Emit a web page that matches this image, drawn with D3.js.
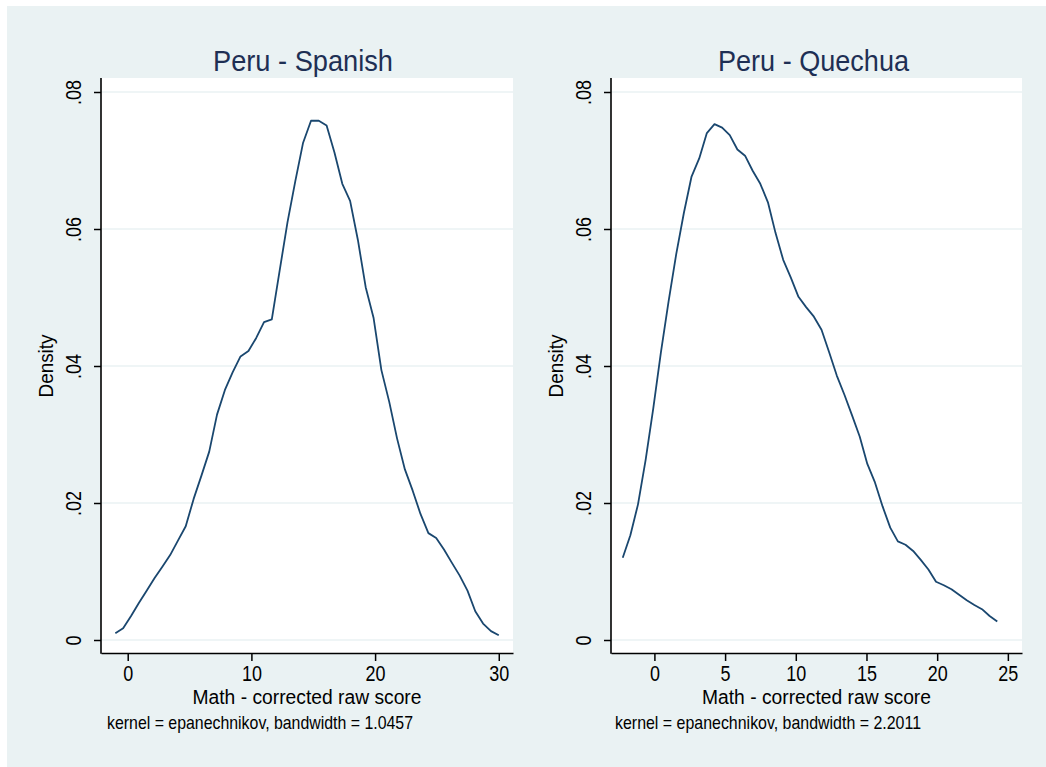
<!DOCTYPE html>
<html>
<head>
<meta charset="utf-8">
<script src="https://cdn.jsdelivr.net/npm/d3@7"></script>
<style>
html,body{margin:0;padding:0;background:#fff;}
svg{display:block;}
text{font-family:"Liberation Sans Narrow","Arial Narrow","Liberation Sans",Arial,sans-serif;}
</style>
</head>
<body>
<svg id="chart" width="1046" height="767"></svg>
<script>
// kernel density estimates (50 points each)
const spanishX = [-1.00,-0.37,0.27,0.90,1.53,2.16,2.80,3.43,4.06,4.69,5.33,5.96,6.59,7.22,7.86,8.49,9.12,9.76,10.39,11.02,
  11.65,12.29,12.92,13.55,14.18,14.82,15.45,16.08,16.71,17.35,17.98,18.61,19.24,19.88,20.51,21.14,21.78,22.41,23.04,23.67,
  24.31,24.94,25.57,26.20,26.84,27.47,28.10,28.73,29.37,30.00];
const spanishY = [0.0010,0.0017,0.0035,0.0054,0.0072,0.0090,0.0107,0.0124,0.0145,0.0166,0.0206,0.0240,0.0275,0.0329,0.0365,0.0391,0.0414,0.0422,0.0441,0.0464,
  0.0468,0.0540,0.0610,0.0670,0.0726,0.0758,0.0758,0.0751,0.0712,0.0666,0.0641,0.0584,0.0515,0.0470,0.0394,0.0348,0.0294,0.0249,0.0218,0.0184,
  0.0156,0.0149,0.0132,0.0113,0.0094,0.0072,0.0042,0.0024,0.0013,0.0007];
const quechuaX = [-2.24,-1.70,-1.16,-0.62,-0.08,0.46,1.00,1.54,2.08,2.62,3.17,3.71,4.25,4.79,5.33,5.87,6.41,6.95,7.49,8.03,
  8.57,9.11,9.65,10.19,10.73,11.28,11.82,12.36,12.90,13.44,13.98,14.52,15.06,15.60,16.14,16.68,17.22,17.76,18.30,18.84,
  19.38,19.92,20.47,21.01,21.55,22.09,22.63,23.17,23.71,24.25];
const quechuaY = [0.0120,0.0153,0.0198,0.0263,0.0338,0.0420,0.0494,0.0563,0.0623,0.0676,0.0703,0.0740,0.0753,0.0748,0.0737,0.0716,0.0707,0.0685,0.0666,0.0639,
  0.0594,0.0555,0.0529,0.0501,0.0486,0.0472,0.0453,0.0420,0.0386,0.0358,0.0328,0.0297,0.0257,0.0230,0.0195,0.0164,0.0144,0.0139,0.0130,0.0117,
  0.0103,0.0085,0.0080,0.0074,0.0066,0.0058,0.0051,0.0045,0.0035,0.0027];

const yTicks = [0, 0.02, 0.04, 0.06, 0.08];
const spanishTicks = [0, 10, 20, 30];
const quechuaTicks = [0, 5, 10, 15, 20, 25];
const titles = ["Peru - Spanish", "Peru - Quechua"];
const xTitle = "Math - corrected raw score";
const notes = ["kernel = epanechnikov, bandwidth = 1.0457", "kernel = epanechnikov, bandwidth = 2.2011"];

const panels = [
  { xs: spanishX, ys: spanishY, ticks: spanishTicks, dom: [-2.16, 31.15], left: 101, right: 513, title: titles[0], note: notes[0], tW: 180, tDx: -4, nDx: 6 },
  { xs: quechuaX, ys: quechuaY, ticks: quechuaTicks, dom: [-3.07, 26.0], left: 611, right: 1022, title: titles[1], note: notes[1], tW: 191, tDx: -3, nDx: 4 }
];

const bg = "#eaf2f3", navy = "#1a476f";
const plotTop = 78, plotBottom = 653;
const font = '"Liberation Sans Narrow","Arial Narrow","Liberation Sans",Arial,sans-serif';
const svg = d3.select("#chart");
svg.append("rect").attr("x",7).attr("y",6).attr("width",1039).attr("height",761).attr("fill",bg);

const fmtY = d => d === 0 ? "0" : d3.format(".2f")(d).replace(/^0/, "");
// narrow look: squeeze labels to roughly the reference widths
const labelLen = s => s.replace(/\./g, "").length * 10 + (s.includes(".") ? 5 : 0);

panels.forEach(p => {
  const x = d3.scaleLinear().domain(p.dom).range([p.left, p.right]);
  const y = d3.scaleLinear().domain([0, 0.08]).range([640, 92]);
  const g = svg.append("g");
  const mid = (p.left + p.right) / 2;

  g.append("rect").attr("x",p.left).attr("y",plotTop).attr("width",p.right-p.left).attr("height",plotBottom-plotTop).attr("fill","#fff");

  // grid
  g.selectAll("line.grid").data(yTicks).join("line").attr("class","grid")
    .attr("x1",p.left).attr("x2",p.right).attr("y1",d=>y(d)).attr("y2",d=>y(d))
    .attr("stroke",bg).attr("stroke-width",1.5);

  // density curve
  g.append("path").datum(d3.zip(p.xs, p.ys))
    .attr("d", d3.line().x(d=>x(d[0])).y(d=>y(d[1])))
    .attr("fill","none").attr("stroke",navy).attr("stroke-width",1.8).attr("stroke-linejoin","round");

  // x axis
  const xa = g.append("g").attr("transform",`translate(0,${plotBottom})`)
    .call(d3.axisBottom(x).tickValues(p.ticks).tickSize(8).tickSizeOuter(0).tickPadding(4).tickFormat(d3.format("d")));
  xa.select(".domain").attr("stroke","#000").attr("stroke-width",1.6);
  xa.selectAll(".tick line").attr("stroke","#000").attr("stroke-width",1.5);
  xa.selectAll(".tick text").attr("font-size",22).attr("fill","#000").style("font-family",font)
    .attr("textLength",function(){ return labelLen(this.textContent); }).attr("lengthAdjust","spacingAndGlyphs");

  // y axis
  const ya = g.append("g").attr("transform",`translate(${p.left},0)`)
    .call(d3.axisLeft(y).tickValues(yTicks).tickSize(7).tickSizeOuter(0).tickFormat(fmtY));
  ya.select(".domain").remove();
  ya.append("line").attr("x1",0).attr("x2",0).attr("y1",plotTop).attr("y2",plotBottom+0.8).attr("stroke","#000").attr("stroke-width",1.6);
  ya.selectAll(".tick line").attr("stroke","#000").attr("stroke-width",1.5);
  ya.selectAll(".tick text").attr("font-size",22).attr("fill","#000")
    .attr("x",0).attr("y",0).attr("dy",0).attr("text-anchor","middle")
    .attr("transform","translate(-20,0) rotate(-90)")
    .attr("textLength",function(){ return labelLen(this.textContent); }).attr("lengthAdjust","spacingAndGlyphs")
    .style("font-family",font);

  // titles and labels
  g.append("text").attr("x",mid + p.tDx).attr("y",71).attr("text-anchor","middle")
    .attr("font-size",29).attr("fill","#1e2f54").attr("textLength",p.tW).attr("lengthAdjust","spacingAndGlyphs")
    .text(p.title);
  g.append("text").attr("transform",`translate(${p.left-48},366) rotate(-90)`).attr("text-anchor","middle")
    .attr("font-size",20).attr("fill","#000").attr("textLength",63).attr("lengthAdjust","spacingAndGlyphs")
    .text("Density");
  g.append("text").attr("x",mid).attr("y",704).attr("text-anchor","middle")
    .attr("font-size",20).attr("fill","#000").attr("textLength",229).attr("lengthAdjust","spacingAndGlyphs")
    .text(xTitle);
  g.append("text").attr("x",p.left + p.nDx).attr("y",729)
    .attr("font-size",19).attr("fill","#000").attr("textLength",306).attr("lengthAdjust","spacingAndGlyphs")
    .text(p.note);
});
</script>
</body>
</html>
